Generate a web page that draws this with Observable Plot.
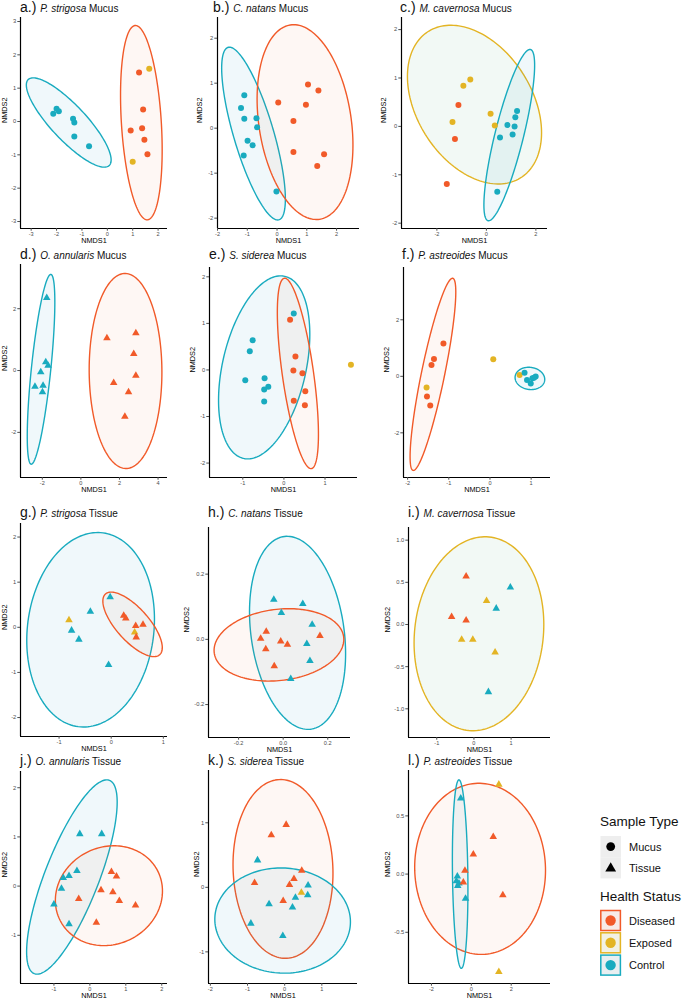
<!DOCTYPE html>
<html><head><meta charset="utf-8">
<script src="https://cdn.jsdelivr.net/npm/d3@7"></script>
<script src="https://cdn.jsdelivr.net/npm/@observablehq/plot@0.6"></script>
<style>
body{margin:0;background:#fff;font-family:"Liberation Sans",Arial,sans-serif;}
#root{position:relative;width:683px;height:1000px;overflow:hidden;background:#fff;}
.panel{position:absolute;}
.title{position:absolute;white-space:nowrap;font-size:14px;line-height:14px;color:#111;}
.title span{font-size:10px;}
</style></head><body><div id="root"></div>
<script>
// ---- categories ----
const statusCodes = ["D", "E", "C"];
const statusNames = ["Diseased", "Exposed", "Control"];
const statusColors = ["#F15A29", "#E3B424", "#19ABBF"];
const ellipseFills = ["#F15A29", "#3E9E68", "#1E8FC0"];

// ---- panel titles ----
const panelLetters = ["a", "b", "c", "d", "e", "f", "g", "h", "i", "j", "k", "l"];
const panelSpecies = ["P. strigosa", "C. natans", "M. cavernosa", "O. annularis", "S. siderea", "P. astreoides",
                      "P. strigosa", "C. natans", "M. cavernosa", "O. annularis", "S. siderea", "P. astreoides"];
const panelTitleType = ["Mucus", "Mucus", "Mucus", "Mucus", "Mucus", "Mucus",
                        "Tissue", "Tissue", "Tissue", "Tissue", "Tissue", "Tissue"];
const panelShape = ["Mucus", "Mucus", "Mucus", "Tissue", "Mucus", "Mucus",
                    "Tissue", "Tissue", "Tissue", "Tissue", "Tissue", "Tissue"];

// ---- points: [NMDS1, NMDS2, status] ----
const ptsA = [[-2.13,0.23,"C"],[-2.0,0.38,"C"],[-1.91,0.31,"C"],[-1.35,0.08,"C"],[-1.30,-0.03,"C"],[-1.30,-0.45,"C"],[-0.72,-0.74,"C"],
  [1.25,1.47,"D"],[1.41,0.36,"D"],[0.92,-0.27,"D"],[1.37,-0.20,"D"],[1.46,-0.55,"D"],[1.58,-0.98,"D"],
  [1.65,1.58,"E"],[1.0,-1.21,"E"]];
const ptsB = [[-1.10,0.73,"C"],[-1.21,0.45,"C"],[-1.10,0.21,"C"],[-0.69,0.22,"C"],[-0.67,0.02,"C"],[-0.99,-0.28,"C"],[-0.82,-0.38,"C"],[-1.12,-0.61,"C"],[-0.02,-1.41,"C"],
  [1.04,0.97,"D"],[1.39,0.84,"D"],[0.04,0.57,"D"],[0.97,0.52,"D"],[0.55,0.16,"D"],[0.55,-0.53,"D"],[1.58,-0.58,"D"],[1.35,-0.84,"D"]];
const ptsC = [[1.24,0.32,"C"],[1.17,0.19,"C"],[0.85,0.03,"C"],[1.14,0.0,"C"],[1.06,-0.17,"C"],[0.55,-0.23,"C"],[0.44,-1.35,"C"],
  [-0.65,0.97,"E"],[-0.93,0.84,"E"],[0.17,0.26,"E"],[0.34,0.02,"E"],[-1.37,0.09,"E"],
  [-1.13,0.44,"D"],[-1.27,-0.26,"D"],[-1.60,-1.19,"D"]];
const ptsD = [[-1.77,2.35,"C"],[-1.82,0.27,"C"],[-1.70,0.16,"C"],[-2.08,-0.05,"C"],[-2.38,-0.52,"C"],[-1.96,-0.49,"C"],[-1.99,-0.70,"C"],
  [1.35,1.05,"D"],[2.85,1.21,"D"],[2.74,0.54,"D"],[2.85,-0.16,"D"],[1.70,-0.40,"D"],[2.47,-0.70,"D"],[2.28,-1.49,"D"]];
const ptsE = [[0.24,1.21,"C"],[-0.76,0.64,"C"],[-0.83,0.40,"C"],[-0.94,-0.22,"C"],[-0.47,-0.18,"C"],[-0.38,-0.36,"C"],[-0.48,-0.42,"C"],[-0.48,-0.68,"C"],
  [0.15,1.08,"D"],[0.28,0.29,"D"],[0.23,-0.01,"D"],[0.45,-0.07,"D"],[0.52,-0.46,"D"],[0.24,-0.66,"D"],[0.51,-0.76,"D"],
  [1.63,0.11,"E"]];
const ptsF = [[-1.13,1.16,"D"],[-1.36,0.61,"D"],[-1.42,0.40,"D"],[-1.53,-0.71,"D"],[-1.45,-1.03,"D"],
  [-1.54,-0.40,"E"],[0.08,0.60,"E"],[0.72,0.05,"E"],
  [0.84,0.13,"C"],[1.07,-0.05,"C"],[0.99,-0.25,"C"],[0.90,-0.13,"C"],[1.03,-0.07,"C"],[1.11,-0.01,"C"]];
const ptsG = [[-0.02,0.67,"C"],[-0.40,0.35,"C"],[-0.76,-0.07,"C"],[-0.62,-0.27,"C"],[-0.05,-0.83,"C"],
  [-0.81,0.16,"E"],[0.45,-0.11,"E"],
  [0.24,0.26,"D"],[0.28,0.20,"D"],[0.47,0.03,"D"],[0.61,0.06,"D"],[0.48,-0.22,"D"]];
const ptsH = [[-0.042,0.122,"C"],[0.088,0.109,"C"],[-0.008,0.081,"C"],[0.130,0.045,"C"],[0.106,-0.014,"C"],[0.120,-0.066,"C"],[0.034,-0.121,"C"],
  [-0.076,0.024,"D"],[-0.101,0.002,"D"],[-0.011,-0.006,"D"],[0.019,-0.016,"D"],[0.165,0.011,"D"],[-0.078,-0.030,"D"],[-0.040,-0.082,"D"]];
const ptsI = [[-0.21,0.57,"D"],[-0.60,0.09,"D"],[-0.21,0.05,"D"],
  [0.98,0.44,"C"],[0.60,0.19,"C"],[0.39,-0.80,"C"],
  [0.34,0.28,"E"],[-0.33,-0.18,"E"],[-0.03,-0.18,"E"],[0.57,-0.33,"E"]];
const ptsJ = [[-0.28,1.06,"C"],[0.33,1.06,"C"],[-0.36,0.31,"C"],[-0.58,0.21,"C"],[-0.74,0.17,"C"],[-0.79,-0.05,"C"],[-1.00,-0.37,"C"],[-0.58,-0.77,"C"],
  [0.60,0.29,"D"],[0.74,0.20,"D"],[0.31,-0.08,"D"],[0.64,-0.12,"D"],[0.82,-0.30,"D"],[1.27,-0.39,"D"],[-0.31,-0.26,"D"],[0.18,-0.74,"D"]];
const ptsK = [[0.04,0.97,"D"],[-0.36,0.81,"D"],[0.46,0.26,"D"],[0.25,0.13,"D"],[0.13,0.04,"D"],[-0.81,0.07,"D"],[-0.04,-0.21,"D"],
  [-0.73,0.42,"C"],[0.63,0.03,"C"],[0.62,-0.12,"C"],[0.29,-0.16,"C"],[0.21,-0.31,"C"],[-0.42,-0.26,"C"],[-0.91,-0.56,"C"],[-0.05,-0.75,"C"],
  [0.45,-0.08,"E"]];
const ptsL = [[-0.53,0.65,"C"],[-0.70,-0.02,"C"],[-0.75,-0.06,"C"],[-0.62,-0.08,"C"],[-0.68,-0.10,"C"],[-0.29,-0.21,"C"],
  [1.10,0.32,"D"],[0.10,0.17,"D"],[-0.32,0.03,"D"],[-0.40,-0.07,"D"],[1.58,-0.18,"D"],
  [1.38,0.77,"E"],[1.38,-0.84,"E"]];

// ---- ellipses: [status, NMDS1 min, NMDS1 max, NMDS2 min, NMDS2 max, NMDS1 at top] ----
const ellA = [["C",-3.19,0.15,-1.37,1.31,-2.92],["D",0.52,2.16,-2.95,2.88,1.11]];
const ellB = [["C",-1.86,0.28,-2.04,1.80,-1.6],["D",-0.67,2.55,-2.03,2.30,0.56]];
const ellC = [["E",-3.19,2.23,-1.19,2.09,-1.44],["C",-0.10,1.95,-1.95,1.59,1.76]];
const ellD = [["C",-2.78,-1.35,-3.03,3.11,-1.56],["D",0.43,4.20,-3.17,3.14,2.29]];
const ellE = [["C",-1.59,0.63,-1.91,2.02,-0.08],["D",-0.16,0.84,-2.12,1.97,0.02]];
const ellF = [["D",-1.94,-0.83,-3.33,3.47,-0.91],["C",0.61,1.33,-0.47,0.32,0.94]];
const ellG = [["C",-1.62,0.83,-2.21,2.10,-0.26],["D",-0.16,0.98,-0.65,0.78,0.0]];
const ellH = [["C",-0.151,0.280,-0.276,0.316,0.018],["D",-0.31,0.272,-0.128,0.094,0.025]];
const ellI = [["E",-1.61,1.88,-1.26,1.04,0.30]];
const ellJ = [["C",-1.76,0.76,-1.79,2.16,0.47],["D",-0.96,2.02,-1.21,0.82,0.67]];
const ellK = [["D",-1.39,1.30,-1.10,1.67,-0.11],["C",-1.88,1.77,-1.33,0.30,-0.1]];
const ellL = [["D",-2.84,3.72,-0.69,0.78,0.38],["C",-0.95,-0.17,-0.81,0.81,-0.62]];

// ---- axis domains and tick labels ----
const xDomains = [[-3.42,2.37],[-2.0,2.77],[-3.43,2.47],[-3.13,4.49],[-1.81,1.79],[-2.1,1.47],
                  [-1.74,1.08],[-0.335,0.302],[-1.76,2.06],[-1.93,2.16],[-2.05,1.96],[-3.15,3.97]];
const yDomains = [[-3.21,3.12],[-2.23,2.46],[-2.11,2.25],[-3.46,3.43],[-2.31,2.2],[-3.58,3.85],
                  [-2.42,2.3],[-0.301,0.343],[-1.34,1.15],[-1.98,2.33],[-1.49,1.81],[-0.94,0.89]];
const xTicks = [[-3,-2,-1,0,1,2],[-2,-1,0,1,2],[-2,0,2],[-2,0,2,4],[-1,0,1],[-2,-1,0,1],
                [-1,0,1],[-0.2,0,0.2],[-1,0,1],[-1,0,1,2],[-2,-1,0,1],[-2,0,2]];
const yTicks = [[-3,-2,-1,0,1,2,3],[-2,-1,0,1,2],[-2,-1,0,1,2],[-2,0,2],[-2,-1,0,1,2],[-2,0,2],
                [-2,-1,0,1,2],[-0.2,0,0.2],[-1,-0.5,0,0.5,1],[-1,0,1,2],[-1,0,1],[-0.5,0,0.5]];
const xDecimals = [0,0,0,0,0,0,0,1,0,0,0,0];
const yDecimals = [0,0,0,0,0,0,0,1,1,0,0,1];

// ---- layout (page px): frame [left, right, top, bottom], title [x, baseline], y-label offset ----
const frames = [[20,167,17,228],[217,359,17,228],[401,547,17,228],
                [20,167,264,477],[209,357,267,477],[403,550,267,477],
                [20,167,523,736],[208,350,527,737],[408,550,527,737],
                [20,167,771,983],[208,357,770,983],[408,550,770,983]];
const titlePos = [[20,11.7],[213,11.7],[400,11.7],[20,259],[209,259],[402,259],
                  [20,517.3],[208,517.3],[408,517.3],[20,765.3],[208,765.3],[408,765.3]];
const yLabelOffsets = [16,17.5,17.4,16,17.3,16.6,16,21.6,21.3,16,12,21.3];

const allPts = [ptsA,ptsB,ptsC,ptsD,ptsE,ptsF,ptsG,ptsH,ptsI,ptsJ,ptsK,ptsL];
const allEll = [ellA,ellB,ellC,ellD,ellE,ellF,ellG,ellH,ellI,ellJ,ellK,ellL];

const nameOf = c => statusNames[statusCodes.indexOf(c)];
const colorOf = c => statusColors[statusCodes.indexOf(c)];
const fillOf = c => ellipseFills[statusCodes.indexOf(c)];

function ellipseRows(e) {
  const [s, x0, x1, y0, y1, xt] = e;
  const cx = (x0 + x1) / 2, A = (x1 - x0) / 2, cy = (y0 + y1) / 2, B = (y1 - y0) / 2;
  const phi = Math.acos(Math.max(-1, Math.min(1, (xt - cx) / A)));
  return d3.range(160).map(i => {
    const t = i / 160 * 2 * Math.PI;
    return {x: cx + A * Math.cos(t), y: cy + B * Math.cos(t - phi), status: nameOf(s)};
  });
}

const root = document.getElementById("root");
const mL = 30, mR = 8, mT = 4, mB = 20;

panelLetters.forEach((letter, i) => {
  const [left, right, top, bottom] = frames[i];
  const width = right - left + mL + mR;
  const height = bottom - top + mT + mB;
  const dots = allPts[i].map(([x, y, s]) => ({x, y, status: nameOf(s)}));
  const shape = panelShape[i] === "Mucus" ? "circle" : "triangle";
  const ellMarks = allEll[i].map(e => Plot.line(ellipseRows(e), {
    x: "x", y: "y", curve: "linear-closed",
    fill: fillOf(e[0]), fillOpacity: e[0] === "D" ? 0.05 : 0.065,
    stroke: colorOf(e[0]), strokeWidth: 1.4
  }));
  const fx = d => xDecimals[i] ? d.toFixed(1) : String(d);
  const fy = d => yDecimals[i] ? d.toFixed(1) : String(d);
  const plot = Plot.plot({
    width, height, marginLeft: mL, marginRight: mR, marginTop: mT, marginBottom: mB,
    x: {domain: xDomains[i]},
    y: {domain: yDomains[i]},
    color: {domain: statusNames, range: statusColors},
    style: {fontFamily: "'Liberation Sans', Arial, sans-serif", color: "#4d4d4d", background: "transparent", overflow: "visible"},
    marks: [
      ...ellMarks,
      Plot.dot(dots, {x: "x", y: "y", fill: "status", symbol: shape, r: shape === "circle" ? 3 : 2.8}),
      Plot.ruleX([xDomains[i][0]], {stroke: "#000", strokeWidth: 1.2}),
      Plot.ruleY([yDomains[i][0]], {stroke: "#000", strokeWidth: 1.2}),
      Plot.axisX({ticks: xTicks[i], tickFormat: fx, tickSize: 2.7, tickPadding: 1, fontSize: 5.6, label: null}),
      Plot.axisY({ticks: yTicks[i], tickFormat: fy, tickSize: 2.7, tickPadding: 1.5, fontSize: 5.8, label: null}),
      Plot.text(["NMDS1"], {text: d => d, frameAnchor: "bottom", dy: 14.5, fontSize: 7.3, fill: "#000"}),
      Plot.text(["NMDS2"], {text: d => d, frameAnchor: "left", rotate: -90, dx: -yLabelOffsets[i], fontSize: 7.3, fill: "#000"})
    ]
  });
  const holder = document.createElement("div");
  holder.className = "panel";
  holder.style.left = (left - mL) + "px";
  holder.style.top = (top - mT) + "px";
  holder.appendChild(plot);
  root.appendChild(holder);

  const t = document.createElement("div");
  t.className = "title";
  t.style.left = titlePos[i][0] + "px";
  t.style.top = (titlePos[i][1] - 11.85) + "px";
  t.innerHTML = `${letter}.) <span><i>${panelSpecies[i]}</i> ${panelTitleType[i]}</span>`;
  root.appendChild(t);
});

// ---- legend ----
const sampleTypes = ["Mucus", "Tissue"];
const keyFills = ["#f7ebe7", "#f2f1e4", "#e8eff1"];
const ox = 590, oy = 800;
let svg = `<svg width="93" height="190" xmlns="http://www.w3.org/2000/svg" style="position:absolute;left:${ox}px;top:${oy}px;font-family:'Liberation Sans',Arial,sans-serif">`;
svg += `<text x="10" y="26" font-size="13.5" fill="#111">Sample Type</text>`;
sampleTypes.forEach((s, k) => {
  const y0 = 36 + k * 21.2;
  svg += `<rect x="10.5" y="${y0}" width="20.5" height="21.2" fill="#eeeeee"/>`;
  const cy = y0 + 10.6;
  if (k === 0) svg += `<circle cx="20.7" cy="${cy}" r="4.4" fill="#000"/>`;
  else svg += `<path d="M20.7,${cy - 5.6} L26.1,${cy + 3.8} L15.3,${cy + 3.8} Z" fill="#000"/>`;
  svg += `<text x="39" y="${cy + 4}" font-size="11" fill="#111">${s}</text>`;
});
svg += `<text x="10" y="101" font-size="13.5" fill="#111">Health Status</text>`;
statusNames.forEach((s, k) => {
  const y0 = 109.7 + k * 22.3;
  svg += `<rect x="10.8" y="${y0 + 0.8}" width="19.6" height="20" fill="${keyFills[k]}" stroke="${statusColors[k]}" stroke-width="1.5"/>`;
  svg += `<circle cx="20.6" cy="${y0 + 10.8}" r="5.2" fill="${statusColors[k]}"/>`;
  svg += `<text x="39" y="${y0 + 14.8}" font-size="11" fill="#111">${s}</text>`;
});
svg += `</svg>`;
root.insertAdjacentHTML("beforeend", svg);
</script>
</body></html>
